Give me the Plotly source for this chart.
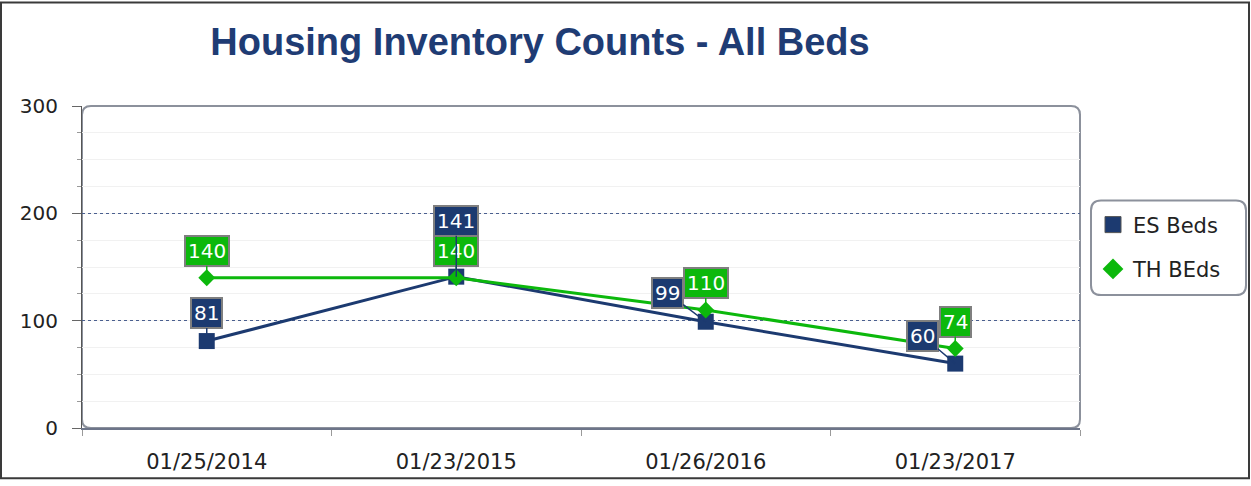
import plotly.graph_objects as go

# ---- data ----
dates = ["01/25/2014", "01/23/2015", "01/26/2016", "01/23/2017"]
es_beds = [81, 141, 99, 60]
th_beds = [140, 140, 110, 74]
series_names = ["ES Beds", "TH BEds"]
y_ticks = [0, 100, 200, 300]

# ---- style ----
ES_COLOR = "#1c3a70"
TH_COLOR = "#0cb80c"
TITLE_COLOR = "#1f3c74"
FONT = "DejaVu Sans"

# label offsets (pixels) per point: (ax, ay)
es_offsets = [(0, -28), (0, -56), (-38, -29), (-33, -28)]
th_offsets = [(0, -27), (0, -27), (0, -27), (0, -27)]

fig = go.Figure()

fig.add_trace(go.Scatter(
    x=dates, y=es_beds, mode="lines+markers", name=series_names[0],
    line=dict(color=ES_COLOR, width=3),
    marker=dict(symbol="square", size=16, color=ES_COLOR),
    showlegend=False,
))
fig.add_trace(go.Scatter(
    x=dates, y=th_beds, mode="lines+markers", name=series_names[1],
    line=dict(color=TH_COLOR, width=3),
    marker=dict(symbol="diamond", size=13, color=TH_COLOR),
    showlegend=False,
))
# legend-only entries (markers only)
fig.add_trace(go.Scatter(
    x=[None], y=[None], mode="markers", name=series_names[0], legendgroup="a",
    marker=dict(symbol="square", size=16, color=ES_COLOR, line=dict(color="#555", width=1)),
))
fig.add_trace(go.Scatter(
    x=[None], y=[None], mode="markers", name=series_names[1], legendgroup="b",
    marker=dict(symbol="diamond", size=16, color=TH_COLOR),
))

annotations = []
for vals, offs, col in [(th_beds, th_offsets, TH_COLOR), (es_beds, es_offsets, ES_COLOR)]:
    for d, v, (ax, ay) in zip(dates, vals, offs):
        annotations.append(dict(
            x=d, y=v, xref="x", yref="y", text=str(v),
            showarrow=True, arrowhead=0, arrowwidth=1.5, arrowcolor=col,
            ax=ax, ay=ay, standoff=0,
            bgcolor=col, bordercolor="#7f7f7f", borderwidth=2, borderpad=2,
            font=dict(family=FONT, size=20, color="white"),
        ))

L, R, T, B = 82, 1080, 106, 433
W, H = 1251, 486
pw, ph = R - L, B - T

def px_x(p):
    return (p - L) / pw

def px_y(p):
    return (B - p) / ph

def rounded(x0, y0, x1, y1, r):
    # pixel coords -> paper path with rounded corners
    rx, ry = r / pw, r / ph
    a, b, c, d = px_x(x0), px_y(y1), px_x(x1), px_y(y0)  # left,bottom,right,top
    return (f"M {a+rx},{b} L {c-rx},{b} Q {c},{b} {c},{b+ry} "
            f"L {c},{d-ry} Q {c},{d} {c-rx},{d} L {a+rx},{d} Q {a},{d} {a},{d-ry} "
            f"L {a},{b+ry} Q {a},{b} {a+rx},{b} Z")

shapes = [
    # plot area rounded frame
    dict(type="path", xref="paper", yref="paper", path=rounded(L, T, R, B, 9),
         line=dict(color="#8c919c", width=2), layer="below"),
    # legend rounded box
    dict(type="path", xref="paper", yref="paper", path=rounded(1091, 202, 1246, 298, 10),
         line=dict(color="#8c919c", width=2), fillcolor="white", layer="below"),
    # outer figure border
    dict(type="rect", xref="paper", yref="paper",
         x0=px_x(1), x1=px_x(W - 2), y0=px_y(H - 2), y1=px_y(1),
         line=dict(color="#3a3a3a", width=2)),
]

fig.update_layout(
    width=W, height=H,
    margin=dict(l=L, r=W - R, t=T, b=H - B),
    paper_bgcolor="white", plot_bgcolor="white",
    title=dict(
        text="Housing Inventory Counts - All Beds",
        font=dict(family="Liberation Sans", size=38, color=TITLE_COLOR, weight="bold"),
        x=px_x(540), xref="paper", xanchor="center",
        y=1 - 42 / H, yref="container", yanchor="middle",
    ),
    font=dict(family=FONT, color="#222"),
    showlegend=True,
    legend=dict(
        x=px_x(1093), y=px_y(206), xanchor="left", yanchor="top",
        bgcolor="rgba(0,0,0,0)", borderwidth=0,
        font=dict(family=FONT, size=21, color="#222"),
        tracegroupgap=14,
    ),
    xaxis=dict(
        type="category", categoryorder="array", categoryarray=dates,
        range=[-0.5, 3.5], showgrid=False,
        showline=True, linecolor="#6d7589", linewidth=2,
        ticks="outside", tickson="boundaries", ticklen=6, tickcolor="#9a9a9a",
        tickfont=dict(family=FONT, size=21, color="#222"),
        ticklabelstandoff=14,
    ),
    yaxis=dict(
        range=[0, 300], tickvals=y_ticks,
        showgrid=True, gridcolor="#4a5f8f", gridwidth=1, griddash="dot",
        showline=True, linecolor="#555", linewidth=1,
        ticks="outside", ticklen=9, tickcolor="#666",
        tickfont=dict(family=FONT, size=20, color="#222"),
        ticklabelstandoff=10,
        zeroline=False,
        minor=dict(dtick=25, showgrid=True, gridcolor="#f1f1f1", griddash="solid",
                   ticks="outside", ticklen=4, tickcolor="#999"),
    ),
    annotations=annotations,
    shapes=shapes,
)

fig.write_html(
    "out.html",
    config={"displayModeBar": False},
    post_script="document.body.style.margin='0';document.body.style.overflow='hidden';",
)
